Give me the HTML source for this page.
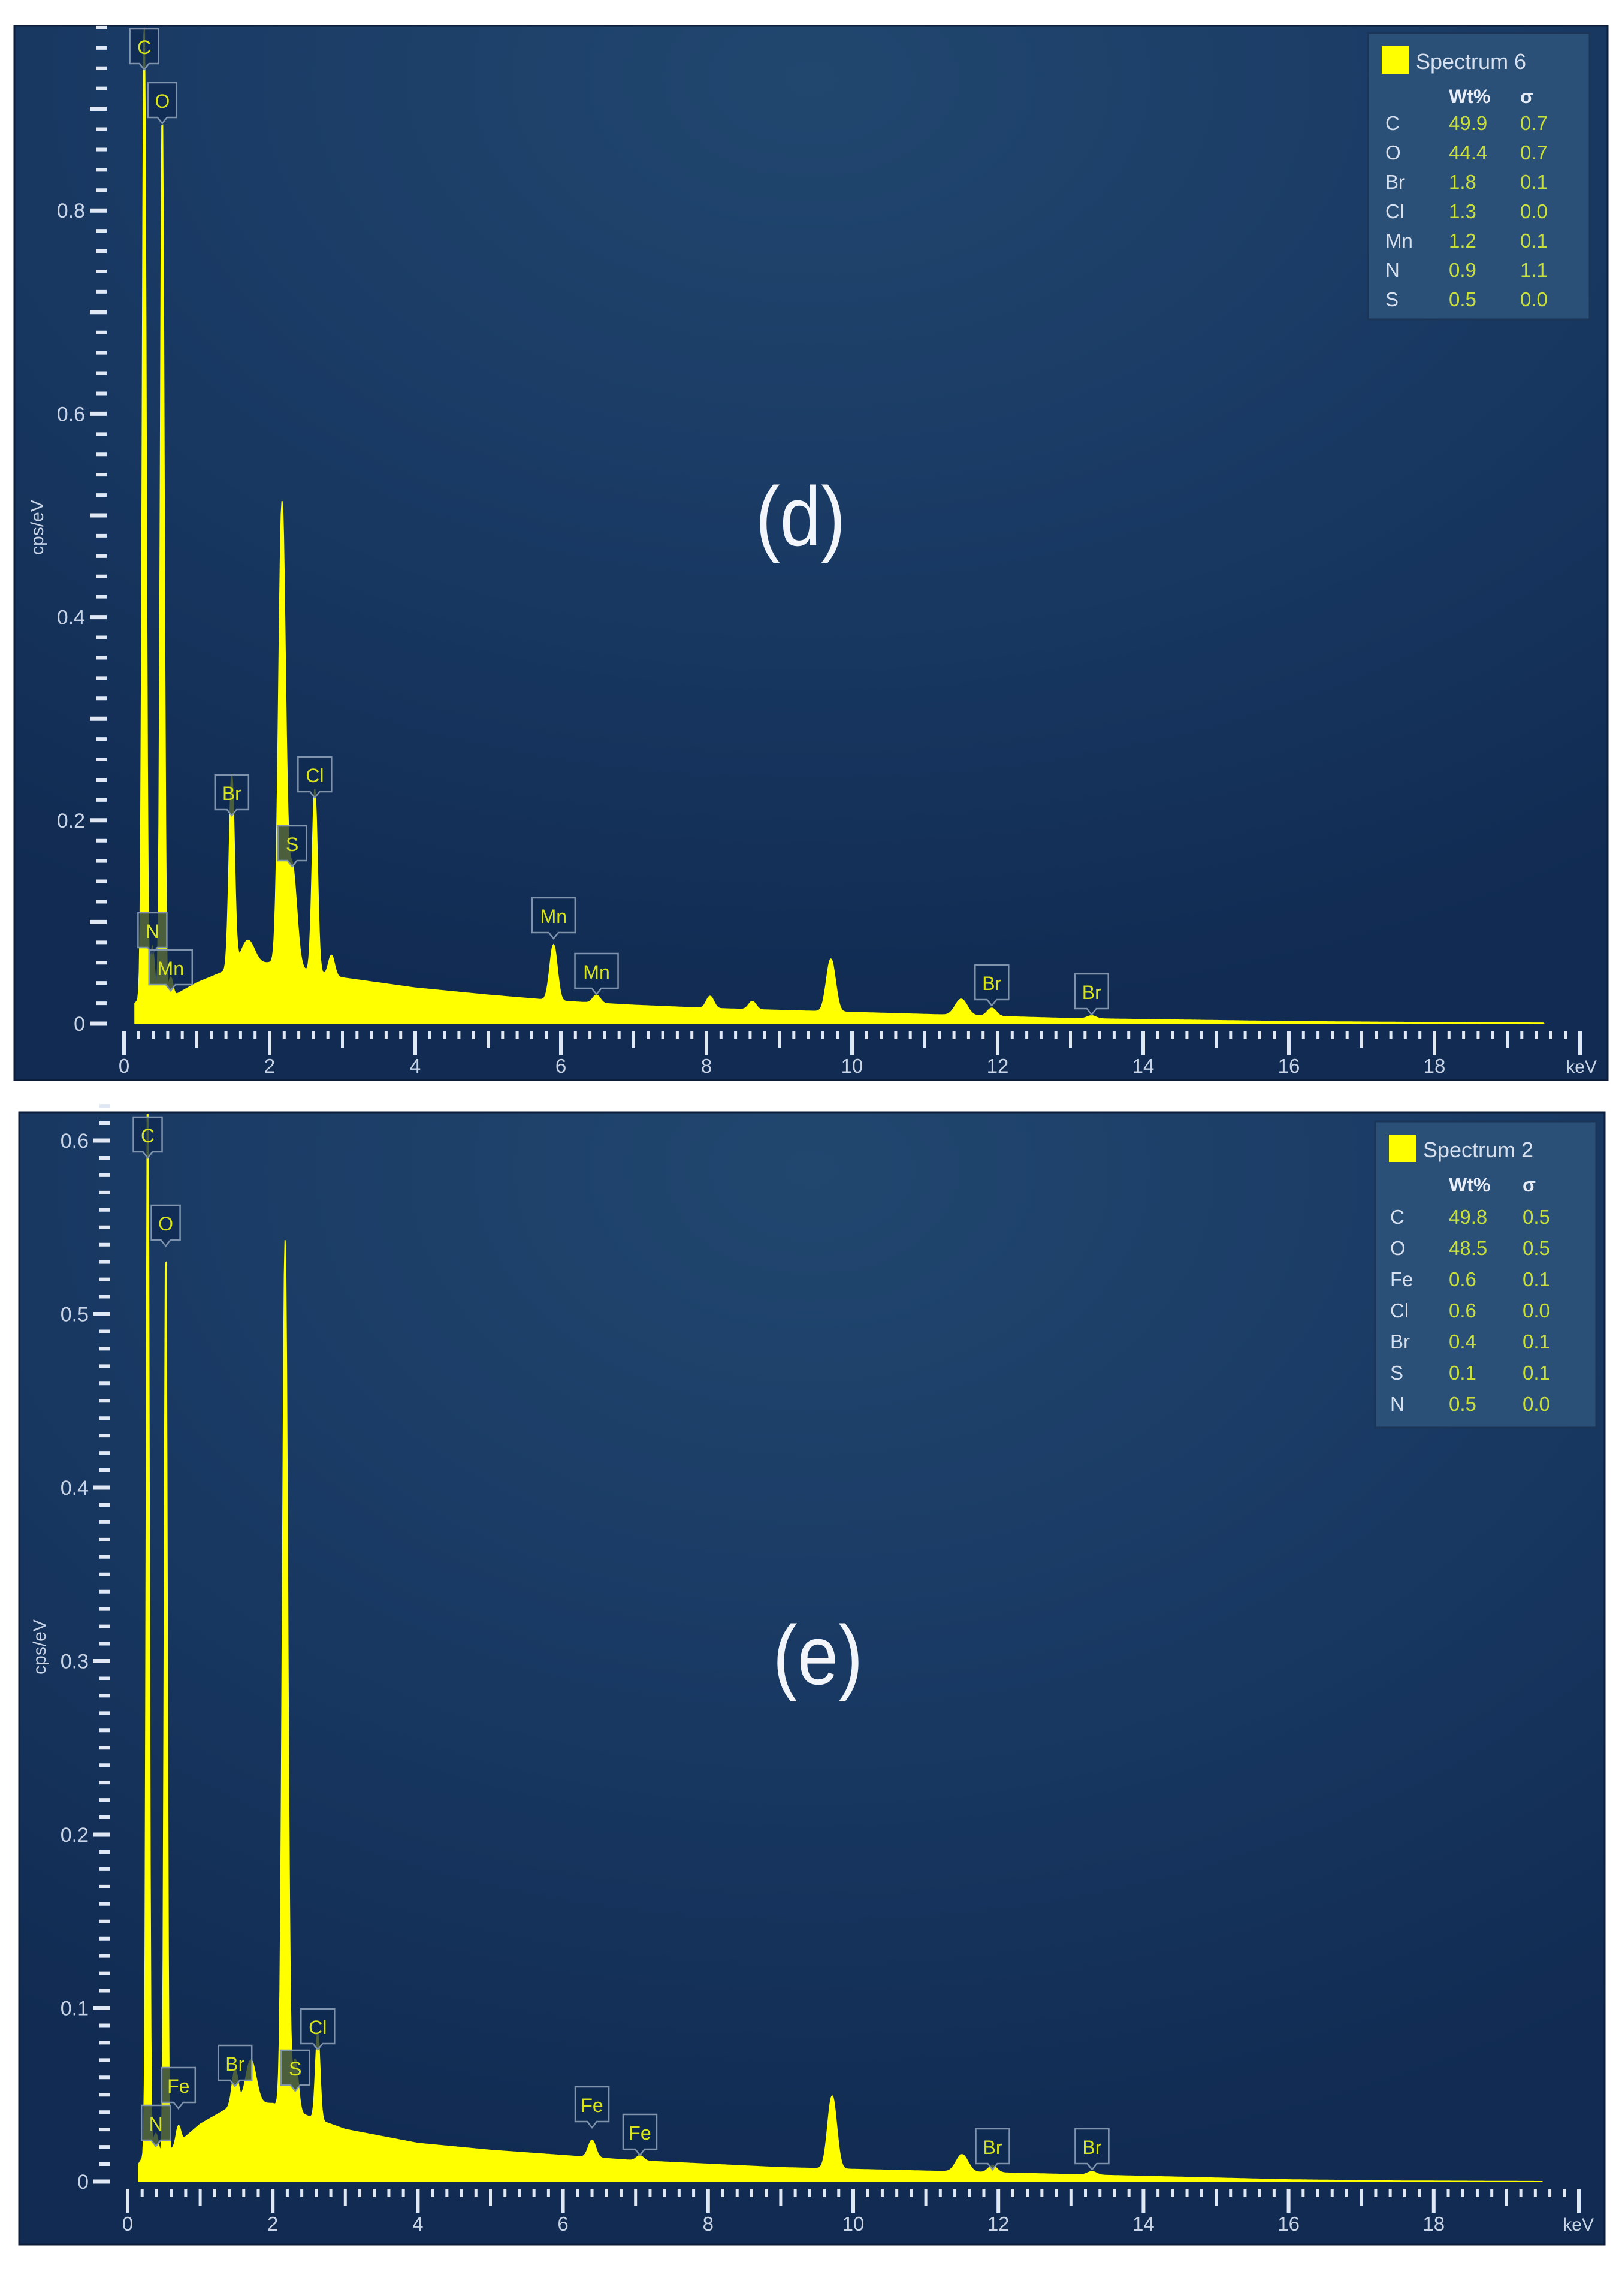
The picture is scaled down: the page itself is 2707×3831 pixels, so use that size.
<!DOCTYPE html>
<html><head><meta charset="utf-8"><style>
html,body{margin:0;padding:0;background:#fff;}
svg{display:block;}
text{font-family:"Liberation Sans",sans-serif;}
</style></head><body>
<svg id="root" xmlns="http://www.w3.org/2000/svg" width="2707" height="3831" viewBox="0 0 2707 3831">
<defs>
<radialGradient id="bg" cx="0.5" cy="0.05" r="0.9">
<stop offset="0" stop-color="#21476f"/><stop offset="0.55" stop-color="#183862"/><stop offset="1" stop-color="#112b52"/>
</radialGradient>
</defs>
</svg>
<script>
// ---- Panel (d) data ----
const bgEnergyD = [0.15,0.3,0.5,1.0,1.5,2.0,3.0,4.0,5.0,6.0,7.0,8.0,9.0,10.0,11.0,12.0,13.0,14.0,16.0,18.0,19.5];
const bgValueD  = [0.02,0.03,0.02,0.04,0.055,0.06,0.045,0.035,0.028,0.022,0.018,0.015,0.013,0.011,0.009,0.007,0.005,0.004,0.002,0.001,0.0005];
const peakEnergyD = [0.277,0.39,0.525,0.64,1.48,1.70,2.17,2.31,2.62,2.85,5.90,6.49,8.05,8.63,9.71,11.50,11.92,13.29];
const peakHeightD = [0.98,0.05,0.88,0.02,0.19,0.025,0.45,0.10,0.18,0.02,0.055,0.008,0.012,0.008,0.052,0.016,0.008,0.003];
const peakWidthD  = [0.025,0.03,0.025,0.03,0.035,0.09,0.045,0.06,0.035,0.04,0.05,0.05,0.05,0.05,0.06,0.08,0.06,0.06];
// ---- Panel (e) data ----
const bgEnergyE = [0.15,0.3,0.5,1.0,1.5,2.0,3.0,4.0,5.0,6.0,7.0,8.0,9.0,10.0,12.0,14.0,16.0,17.5,19.5];
const bgValueE  = [0.01,0.02,0.015,0.033,0.045,0.045,0.03,0.022,0.018,0.015,0.012,0.01,0.008,0.007,0.005,0.003,0.001,0.0003,0.0];
const peakEnergyE = [0.277,0.39,0.525,0.70,1.48,1.70,2.17,2.31,2.62,6.40,7.06,9.71,11.50,11.92,13.29];
const peakHeightE = [0.64,0.01,0.53,0.01,0.02,0.025,0.50,0.03,0.05,0.01,0.003,0.042,0.01,0.004,0.002];
const peakWidthE  = [0.02,0.03,0.02,0.03,0.04,0.07,0.035,0.04,0.03,0.05,0.05,0.06,0.08,0.06,0.06];
// legends
const legendElD = ["C","O","Br","Cl","Mn","N","S"];
const legendWtD = ["49.9","44.4","1.8","1.3","1.2","0.9","0.5"];
const legendSgD = ["0.7","0.7","0.1","0.0","0.1","1.1","0.0"];
const legendElE = ["C","O","Fe","Cl","Br","S","N"];
const legendWtE = ["49.8","48.5","0.6","0.6","0.4","0.1","0.5"];
const legendSgE = ["0.5","0.5","0.1","0.0","0.1","0.1","0.0"];
const xTickLabels = ["0","2","4","6","8","10","12","14","16","18"];
const yTickLabelsD = ["0","0.2","0.4","0.6","0.8"];
const yTickLabelsE = ["0","0.1","0.2","0.3","0.4","0.5","0.6"];
// peak markers
const markerElD = ["C","O","N","Mn","Br","S","Cl","Mn","Mn","Br","Br"];
const markerEnD = [0.277,0.525,0.39,0.64,1.48,2.31,2.62,5.90,6.49,11.92,13.29];
const markerTopD = [48,138,1523,1585,1293,1378,1263,1498,1591,1610,1625];
const markerElE = ["C","O","N","Fe","Br","S","Cl","Fe","Fe","Br","Br"];
const markerEnE = [0.277,0.525,0.39,0.70,1.48,2.31,2.62,6.40,7.06,11.92,13.29];
const markerTopE = [1864,2011,3513,3450,3413,3421,3352,3482,3528,3552,3552];

const NS="http://www.w3.org/2000/svg";
const root=document.getElementById('root');
function mk(tag,attrs,parent){const e=document.createElementNS(NS,tag);for(const k in attrs)e.setAttribute(k,attrs[k]);(parent||root).appendChild(e);return e;}
function interp(xs,ys,x){if(x<=xs[0])return ys[0];for(let i=1;i<xs.length;i++){if(x<=xs[i]){const t=(x-xs[i-1])/(xs[i]-xs[i-1]);return ys[i-1]+t*(ys[i]-ys[i-1]);}}return ys[ys.length-1];}

function panel(cfg){
  const g=mk('g',{});
  
  
  const bgr=mk('rect',{x:cfg.left,y:cfg.top,width:cfg.right-cfg.left,height:cfg.bottom-cfg.top,fill:'url(#bg)',stroke:'#0c1e3a','stroke-width':3},g);
  
  
  const X=e=>cfg.x0+e*cfg.kx;
  const Y=v=>cfg.y0-v*cfg.ky;
  let pts=[];
  for(let e=0.15;e<=19.5;e+=0.01){
    let v=interp(cfg.bgE,cfg.bgV,e);
    for(let i=0;i<cfg.pE.length;i++){const d=(e-cfg.pE[i])/cfg.pW[i];v+=cfg.pH[i]*Math.exp(-0.5*d*d);}
    const yy=Math.max(Y(v),cfg.top+3);
    pts.push(X(e).toFixed(1)+','+yy.toFixed(1));
  }
  const d='M'+X(0.15)+','+cfg.y0+' L'+pts.join(' L')+' L'+X(19.5)+','+cfg.y0+' Z';
  const sp=mk('path',{d:d,fill:'#ffff00',stroke:'#ffff00','stroke-width':2},g);
  
  
  const ax=cfg.yAxisX;
  const nMinor=Math.round(cfg.yMax/cfg.yMinor);
  for(let i=0;i<=nMinor;i++){
    const v=i*cfg.yMinor, yy=Y(v);
    const major=Math.abs((v/0.1)-Math.round(v/0.1))<1e-6;
    const t=mk('line',{x1:major?ax-28:ax-18,x2:ax,y1:yy,y2:yy,stroke:'#dfe8f4','stroke-width':major?7:6},g);
    
    
  }
  cfg.yLabels.forEach(s=>{
    const t=mk('text',{x:ax-36,y:Y(parseFloat(s))+12,'font-size':34,fill:'#c9d5e6','text-anchor':'end'},g);
    t.textContent=s;
    
    
  });
  const yt=mk('text',{x:0,y:0,'font-size':30,fill:'#c9d5e6','text-anchor':'middle',transform:`translate(${cfg.yTitleX},${cfg.yTitleY}) rotate(-90)`},g);
  yt.textContent='cps/eV';
  
  
  for(let i=0;i<=100;i++){
    const e=i*0.2, xx=X(e);
    const major2=i%10===0, major1=i%5===0;
    const len=major2?40:(major1?28:14);
    const t=mk('line',{x1:xx,x2:xx,y1:cfg.y0+12,y2:cfg.y0+12+len,stroke:'#dfe8f4','stroke-width':major2?6:5},g);
    
    
  }
  xTickLabels.forEach(s=>{
    const t=mk('text',{x:X(parseFloat(s)),y:cfg.y0+82,'font-size':33,fill:'#c9d5e6','text-anchor':'middle'},g);
    t.textContent=s;
    
    
  });
  const kt=mk('text',{x:cfg.right-18,y:cfg.y0+82,'font-size':30,fill:'#c9d5e6','text-anchor':'end'},g);
  kt.textContent='keV';
  
  
  cfg.mEl.forEach((el,i)=>{
    const cx=X(cfg.mEn[i]), top=cfg.mTop[i];
    const w=el.length>1?(el==='Mn'?72:56):48, h=58;
    const mg=mk('g',{},g);
    
    
    mk('path',{d:`M${cx-w/2},${top} h${w} v${h} h${-w/2+8} l-8,10 l-8,-10 h${-w/2+8} Z`,fill:'#0f2a50','fill-opacity':0.75,stroke:'#7f93ad','stroke-width':2.5},mg);
    const t=mk('text',{x:cx,y:top+42,'font-size':32,fill:'#d8e41c','text-anchor':'middle'},mg);
    t.textContent=el;
    
    
  });
  const L=cfg.leg;
  const lg=mk('g',{},g);
  
  
  mk('rect',{x:L.x,y:L.y,width:L.w,height:L.h,fill:'#2b5078',stroke:'#1a3558','stroke-width':3},lg);
  const sw=mk('rect',{x:L.x+23,y:L.y+22,width:46,height:46,fill:'#ffff00'},lg);
  
  
  const st=mk('text',{x:L.x+80,y:L.y+60,'font-size':36,fill:'#d6e0ee'},lg);
  st.textContent=L.title;
  
  
  const h1=mk('text',{x:L.cw,y:L.hy,'font-size':32,'font-weight':'bold',fill:'#e6edf6'},lg);
  h1.textContent='Wt%';
  
  
  const h2=mk('text',{x:L.cs,y:L.hy,'font-size':32,'font-weight':'bold',fill:'#e6edf6'},lg);
  h2.textContent='σ';
  
  
  L.el.forEach((el,i)=>{
    const yy=L.ry+i*L.dy;
    const a=mk('text',{x:L.ce,y:yy,'font-size':33,fill:'#d6e0ee'},lg);a.textContent=el;
    
    
    const b=mk('text',{x:L.cw,y:yy,'font-size':33,fill:'#c9e03a'},lg);b.textContent=L.wt[i];
    
    
    const c=mk('text',{x:L.cs,y:yy,'font-size':33,fill:'#c9e03a'},lg);c.textContent=L.sg[i];
    
    
  });
  const pl=mk('text',{x:cfg.lblX,y:cfg.lblY,'font-size':140,fill:'#f2f5fa','text-anchor':'middle','font-weight':'300',transform:`translate(${cfg.lblX*0.12},0) scale(0.88,1)`},g);
  pl.textContent=cfg.label;
  
  
}

panel({name:'panel-d',left:24,top:43,right:2683,bottom:1802,x0:207,kx:121.5,y0:1708,ky:1696,yMax:0.98,yMinor:0.02,yAxisX:178,
  yLabels:yTickLabelsD,yTitleX:72,yTitleY:880,bgE:bgEnergyD,bgV:bgValueD,pE:peakEnergyD,pH:peakHeightD,pW:peakWidthD,
  mEl:markerElD,mEn:markerEnD,mTop:markerTopD,label:'(d)',lblX:1336,lblY:910,
  leg:{x:2283,y:55,w:370,h:478,title:'Spectrum 6',hy:172,ry:217,dy:49,ce:2312,cw:2418,cs:2537,el:legendElD,wt:legendWtD,sg:legendSgD}});
panel({name:'panel-e',left:32,top:1856,right:2678,bottom:3745,x0:213,kx:121.1,y0:3640,ky:2895,yMax:0.62,yMinor:0.01,yAxisX:184,
  yLabels:yTickLabelsE,yTitleX:76,yTitleY:2748,bgE:bgEnergyE,bgV:bgValueE,pE:peakEnergyE,pH:peakHeightE,pW:peakWidthE,
  mEl:markerElE,mEn:markerEnE,mTop:markerTopE,label:'(e)',lblX:1365,lblY:2810,
  leg:{x:2295,y:1871,w:369,h:511,title:'Spectrum 2',hy:1988,ry:2042,dy:52,ce:2320,cw:2418,cs:2541,el:legendElE,wt:legendWtE,sg:legendSgE}});
</script>
</body></html>
